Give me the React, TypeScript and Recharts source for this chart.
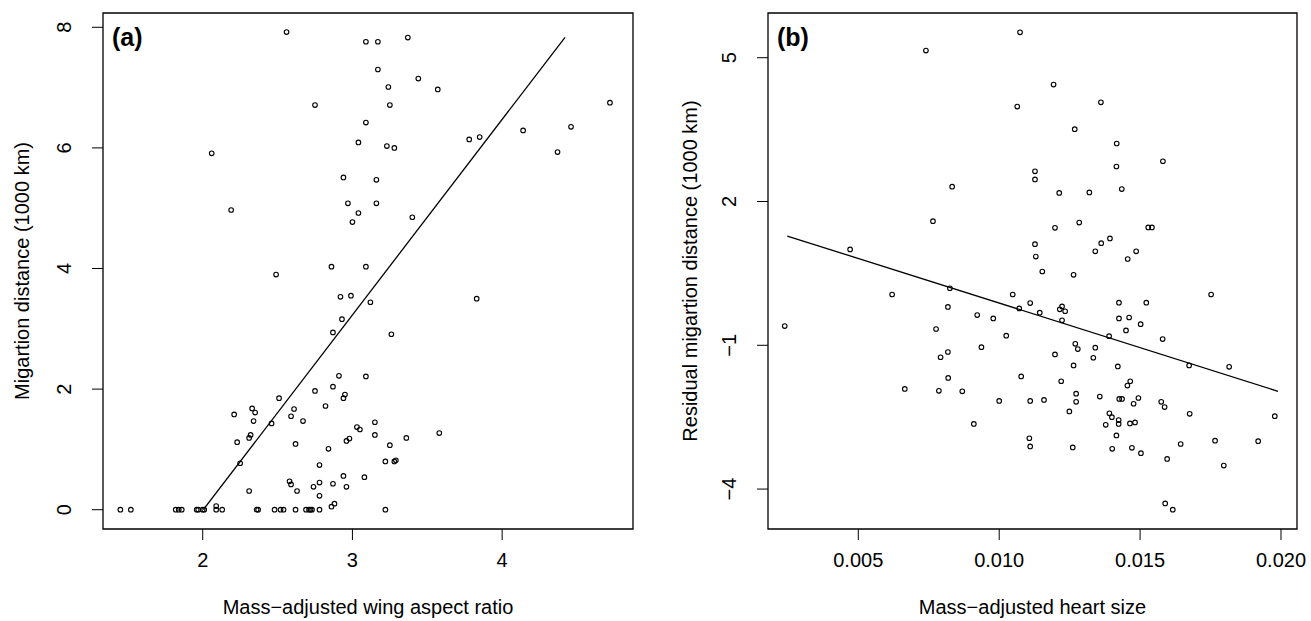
import React from 'react';
import { ScatterChart, Scatter, XAxis, YAxis, ReferenceArea } from 'recharts';

// ---- panel (a): wing aspect ratio vs migration distance ----
const wingAspect = [
  2.56, 3.09, 3.17, 3.17, 2.75, 3.09, 3.04, 2.06, 2.94, 3.16, 2.97, 3.16, 3.04, 2.19, 3.0, 2.86, 3.09, 2.49,
  3.37, 3.44, 3.24, 3.57, 3.25, 4.72, 4.46, 4.14, 3.78, 3.85, 3.23, 3.28, 4.37, 3.4,
  2.92, 2.99, 3.12, 2.93, 2.87, 2.91, 3.09, 2.87, 2.95, 2.94, 2.75, 2.51, 2.82, 2.61, 2.59, 2.67, 2.46, 2.21,
  2.33, 2.35, 2.34, 2.23, 2.32, 2.31, 2.25, 2.62, 2.84, 3.03, 3.05, 2.96, 2.98, 3.15, 3.15, 2.78, 2.78, 2.78,
  2.58, 2.59, 2.63, 2.31, 2.74, 2.87, 2.94, 2.96, 3.08, 2.86, 2.88, 2.09,
  3.83, 3.26, 3.36, 3.58, 3.25, 3.22, 3.28, 3.29, 3.22,
  1.45, 1.52, 1.82, 1.84, 1.86, 1.96, 1.97, 2.0, 2.01, 2.09, 2.13, 2.36, 2.37, 2.48, 2.52, 2.54, 2.62, 2.69,
  2.71, 2.72, 2.73, 2.78,
];
const migrationDist = [
  7.92, 7.76, 7.76, 7.3, 6.71, 6.42, 6.09, 5.91, 5.51, 5.47, 5.08, 5.08, 4.92, 4.97, 4.77, 4.03, 4.03, 3.9,
  7.83, 7.15, 7.01, 6.97, 6.71, 6.75, 6.35, 6.29, 6.14, 6.18, 6.03, 6.0, 5.93, 4.85,
  3.53, 3.55, 3.44, 3.16, 2.94, 2.22, 2.21, 2.04, 1.91, 1.85, 1.97, 1.85, 1.72, 1.67, 1.55, 1.47, 1.43, 1.58,
  1.68, 1.61, 1.47, 1.12, 1.24, 1.19, 0.77, 1.09, 1.01, 1.37, 1.33, 1.14, 1.18, 1.45, 1.24, 0.74, 0.45, 0.23,
  0.47, 0.42, 0.31, 0.31, 0.38, 0.43, 0.56, 0.38, 0.54, 0.05, 0.1, 0.06,
  3.5, 2.91, 1.19, 1.27, 1.07, 0.8, 0.8, 0.82, 0,
  0, 0, 0, 0, 0, 0, 0, 0, 0, 0, 0, 0, 0, 0, 0, 0, 0, 0,
  0, 0, 0, 0,
];
const fitWingAspect = [2.004, 4.42];
const fitMigration = [0, 7.834];

// ---- panel (b): heart size vs residual migration distance ----
const heartSize = [
  0.01074, 0.0074, 0.01064, 0.00833, 0.00765, 0.00471, 0.01193, 0.01361, 0.01268, 0.01417, 0.01416, 0.01581,
  0.01127, 0.01127, 0.01213, 0.0132, 0.01435, 0.01284, 0.01198, 0.01529, 0.01542, 0.01393, 0.01362, 0.01341,
  0.01486, 0.01456, 0.01127, 0.0113, 0.01153, 0.01264, 0.00239, 0.0062, 0.00825, 0.00818, 0.00776, 0.00818,
  0.00792, 0.00922, 0.00979, 0.01025, 0.00937, 0.01048, 0.01071, 0.0111, 0.00819, 0.00665, 0.00786, 0.00869,
  0.01078, 0.01, 0.0111, 0.0091, 0.01107, 0.0111, 0.01752, 0.01425, 0.01522, 0.01144, 0.01215, 0.01223,
  0.01234, 0.01223, 0.01425, 0.01461, 0.01502, 0.0145, 0.0139, 0.0158, 0.0127, 0.01279, 0.01341, 0.01334,
  0.01198, 0.01264, 0.01421, 0.01674, 0.01816, 0.0122, 0.01455, 0.01465, 0.01273, 0.01273, 0.01159, 0.01357,
  0.01426, 0.01436, 0.01494, 0.01477, 0.01575, 0.01587, 0.01676, 0.01978, 0.01249, 0.01391, 0.014, 0.01378,
  0.01424, 0.01424, 0.01464, 0.01482, 0.01416, 0.01644, 0.01766, 0.01919, 0.01261, 0.01401, 0.01471, 0.01503,
  0.01596, 0.01797, 0.01589, 0.01616,
];
const residualDist = [
  5.53, 5.15, 3.98, 2.31, 1.59, 1.0, 4.44, 4.07, 3.51, 3.21, 2.73, 2.84,
  2.63, 2.46, 2.18, 2.19, 2.26, 1.56, 1.45, 1.46, 1.46, 1.23, 1.13, 0.96,
  0.96, 0.8, 1.11, 0.85, 0.54, 0.47, -0.6, 0.06, 0.19, -0.2, -0.66, -1.14,
  -1.25, -0.37, -0.44, -0.8, -1.04, 0.06, -0.23, -0.12, -1.68, -1.91, -1.95, -1.96,
  -1.65, -2.16, -2.16, -2.64, -2.94, -3.11, 0.06, -0.11, -0.11, -0.32, -0.25, -0.19,
  -0.29, -0.48, -0.44, -0.42, -0.56, -0.69, -0.81, -0.87, -0.97, -1.08, -1.05, -1.26,
  -1.19, -1.42, -1.44, -1.42, -1.45, -1.75, -1.84, -1.75, -2.01, -2.18, -2.14, -2.07,
  -2.12, -2.12, -2.1, -2.22, -2.18, -2.29, -2.43, -2.48, -2.38, -2.42, -2.5, -2.66,
  -2.56, -2.64, -2.63, -2.61, -2.88, -3.06, -2.99, -3.0, -3.13, -3.16, -3.14, -3.25,
  -3.37, -3.51, -4.3, -4.43,
];
const fitHeartSize = [0.00248, 0.019894];
const fitResidual = [1.28, -1.96];

const ticksA_x = [2, 3, 4];
const ticksA_y = [0, 2, 4, 6, 8];
const ticksB_x = [0.005, 0.01, 0.015, 0.02];
const ticksB_y = [5, 2, -1, -4];

const FONT = '"Liberation Sans", Arial, Helvetica, sans-serif';
const H = 621;
const PLOT_TOP = 13;
const PLOT_BOTTOM = 529;

const zip = (xs: number[], ys: number[]) => xs.map((x, i) => ({ x, y: ys[i] }));

const fmtMinus = (v: number) => (v < 0 ? '\u2212' + Math.abs(v) : String(v));

const OpenCircle = (props: any) => {
  if (props.cx == null || props.cy == null) return <g />;
  return <circle cx={props.cx} cy={props.cy} r={2.3} fill="none" stroke="#000" strokeWidth={1.1} />;
};

const NoDot = () => <g />;

const YTick = ({ x, y, payload }: any) => (
  <text
    x={x}
    y={y}
    transform={`rotate(-90 ${x} ${y})`}
    textAnchor="middle"
    dy="0.35em"
    fontSize={20}
    fontFamily={FONT}
    fill="#000"
  >
    {fmtMinus(payload.value)}
  </text>
);

const makeXTick = (digits: number) => ({ x, y, payload }: any) => (
  <text x={x} y={y} textAnchor="middle" dy="0.71em" fontSize={20} fontFamily={FONT} fill="#000">
    {digits > 0 ? Number(payload.value).toFixed(digits) : payload.value}
  </text>
);

interface PanelProps {
  left: number;
  width: number;
  yAxisWidth: number;
  rightMargin: number;
  xDomain: [number, number];
  yDomain: [number, number];
  xTicks: number[];
  yTicks: number[];
  xDigits: number;
  points: { x: number; y: number }[];
  fit: { x: number; y: number }[];
  tag: string;
  xTitle: string;
  yTitle: string;
  yTitleX: number;
}

function Panel(p: PanelProps) {
  const plotLeft = p.yAxisWidth;
  const plotRight = p.width - p.rightMargin;
  const midX = (plotLeft + plotRight) / 2;
  const midY = (PLOT_TOP + PLOT_BOTTOM) / 2;
  return (
    <div style={{ position: 'absolute', left: p.left, top: 0 }}>
      <ScatterChart
        width={p.width}
        height={H}
        margin={{ top: PLOT_TOP, right: p.rightMargin, bottom: 0, left: 0 }}
      >
        <XAxis
          type="number"
          dataKey="x"
          domain={p.xDomain}
          ticks={p.xTicks}
          allowDataOverflow
          axisLine={false}
          tickLine={{ stroke: '#000', strokeWidth: 1 }}
          tickSize={11}
          tickMargin={13}
          height={H - PLOT_BOTTOM}
          tick={makeXTick(p.xDigits)}
          label={{
            content: () => (
              <text x={midX} y={614} textAnchor="middle" fontSize={20} fontFamily={FONT} fill="#000">
                {p.xTitle}
              </text>
            ),
          }}
        />
        <YAxis
          type="number"
          dataKey="y"
          domain={p.yDomain}
          ticks={p.yTicks}
          allowDataOverflow
          axisLine={false}
          tickLine={{ stroke: '#000', strokeWidth: 1 }}
          tickSize={11}
          tickMargin={p.yAxisWidth - 11 - (p.yAxisWidth - 39)}
          width={p.yAxisWidth}
          tick={YTick}
          label={{
            content: () => (
              <text
                x={p.yTitleX}
                y={midY}
                transform={`rotate(-90 ${p.yTitleX} ${midY})`}
                textAnchor="middle"
                dy="0.35em"
                fontSize={20}
                fontFamily={FONT}
                fill="#000"
              >
                {p.yTitle}
              </text>
            ),
          }}
        />
        <ReferenceArea
          x1={p.xDomain[0]}
          x2={p.xDomain[1]}
          y1={p.yDomain[0]}
          y2={p.yDomain[1]}
          fill="none"
          stroke="#000"
          strokeWidth={1.3}
          ifOverflow="visible"
          label={{
            content: () => (
              <text
                x={plotLeft + 9}
                y={PLOT_TOP + 33}
                fontSize={25}
                fontWeight="bold"
                fontFamily={FONT}
                fill="#000"
              >
                {p.tag}
              </text>
            ),
          }}
        />
        <Scatter data={p.points} shape={OpenCircle} isAnimationActive={false} />
        <Scatter
          data={p.fit}
          shape={NoDot}
          line={{ stroke: '#000', strokeWidth: 1.3 }}
          isAnimationActive={false}
        />
      </ScatterChart>
    </div>
  );
}

export default function App() {
  const pointsA = zip(wingAspect, migrationDist);
  const fitA = zip(fitWingAspect, fitMigration);
  const pointsB = zip(heartSize, residualDist);
  const fitB = zip(fitHeartSize, fitResidual);

  return (
    <div style={{ position: 'absolute', left: 0, top: 0, width: 1311, height: H, background: '#fff' }}>
      <Panel
        left={0}
        width={655}
        yAxisWidth={103}
        rightMargin={22}
        xDomain={[1.334, 4.874]}
        yDomain={[-0.32, 8.237]}
        xTicks={ticksA_x}
        yTicks={ticksA_y}
        xDigits={0}
        points={pointsA}
        fit={fitA}
        tag="(a)"
        xTitle={'Mass\u2212adjusted wing aspect ratio'}
        yTitle="Migartion distance (1000 km)"
        yTitleX={22}
      />
      <Panel
        left={655}
        width={656}
        yAxisWidth={113}
        rightMargin={14}
        xDomain={[0.001796, 0.020568]}
        yDomain={[-4.833, 5.933]}
        xTicks={ticksB_x}
        yTicks={ticksB_y}
        xDigits={3}
        points={pointsB}
        fit={fitB}
        tag="(b)"
        xTitle={'Mass\u2212adjusted heart size'}
        yTitle="Residual migartion distance (1000 km)"
        yTitleX={35}
      />
    </div>
  );
}
